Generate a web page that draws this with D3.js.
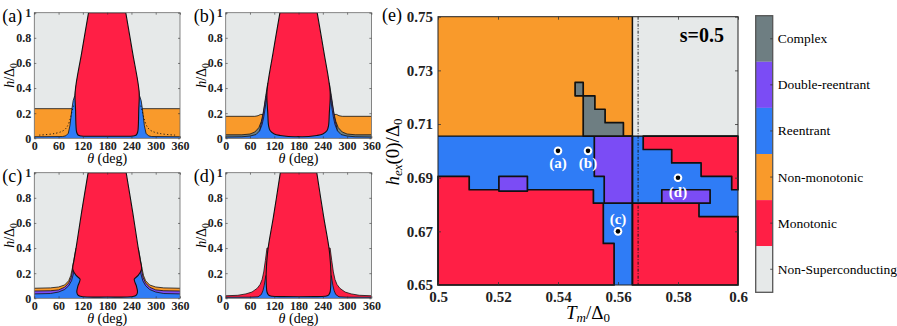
<!DOCTYPE html>
<html>
<head>
<meta charset="utf-8">
<script src="https://cdn.jsdelivr.net/npm/d3@7"></script>
<style>
  body { margin: 0; background: #fff; }
</style>
</head>
<body>
<svg id="chart" width="897" height="326" font-family="'Liberation Serif'"></svg>
<script>
// ---------- data: small panels (a)-(d), h/Δ0 vs θ ----------
// every curve is given as the half 0..180 deg, the other half is its mirror about 180
const thetaTicks = [0, 60, 120, 180, 240, 300, 360];
const hTicks = [0, 0.2, 0.4, 0.6, 0.8, 1];
const hTickLabels = ["0", "0.2", "0.4", "0.6", "0.8", "1"];

// (a)
const aOrange = [[0,0.236],[180,0.236]];
const aBlue = [[0,0.012],[70,0.014],[78,0.02],[84,0.04],[88,0.1],[91,0.18],[93,0.236],[96,0.3],[100,0.34],[104,0.42],[108,0.5],[180,0.5]];
const aRed = [[134,1],[117,0.68],[101,0.37],[102,0.22],[103,0.1],[104.5,0.05],[108,0.026],[116,0.018],[140,0.016],[180,0.016]];
const aDotted = [[97,0.26],[92,0.2],[87,0.13],[80,0.08],[70,0.055],[55,0.04],[35,0.03],[10,0.025]];
// (b)
const bOrange = [[0,0.175],[72,0.175],[80,0.18],[86,0.19],[180,0.19]];
const bComplex = [[0,0.028],[40,0.028],[60,0.034],[72,0.05],[82,0.085],[88,0.135],[92,0.19],[95,0.25],[99,0.34],[104,0.44],[180,0.44]];
const bPurple = [[0,0],[80,0],[86,0.09],[91,0.16],[95,0.24],[98,0.3],[102,0.38],[180,0.38]];
const bBlue = [[0,0.01],[40,0.012],[60,0.018],[75,0.03],[84,0.06],[90,0.11],[94,0.17],[97,0.23],[100,0.3],[104,0.36],[180,0.36]];
const bRed = [[134,1],[117,0.68],[102,0.37],[104,0.2],[106,0.1],[110,0.06],[120,0.035],[135,0.022],[155,0.014],[180,0.013]];
// (c)
const cOrange = [[0,0.08],[40,0.083],[60,0.09],[75,0.106],[85,0.14],[90,0.18],[94,0.24],[98,0.31],[103,0.4],[180,0.4]];
const cPurple = [[0,0.058],[40,0.06],[60,0.067],[75,0.088],[85,0.122],[91,0.165],[95,0.225],[99,0.29],[104,0.38],[180,0.38]];
const cBlue = [[0,0.035],[40,0.038],[60,0.05],[75,0.07],[85,0.1],[92,0.14],[97,0.2],[101,0.26],[106,0.36],[180,0.36]];
const cRed = [[133,1],[116.6,0.68],[103.2,0.4],[98,0.3],[95,0.23],[104,0.18],[113,0.152],[108,0.1],[105,0.05],[108,0.025],[114,0.016],[130,0.01],[180,0.01]];
// (d)
const dRedSide = [[0,0.02],[30,0.024],[50,0.035],[65,0.05],[78,0.08],[85,0.11],[90,0.15],[94,0.21],[98,0.3],[102,0.4],[180,0.4]];
const dBlue = [[0,0.008],[60,0.009],[80,0.012],[88,0.03],[92,0.06],[95,0.1],[97,0.14],[99,0.18],[180,0.18]];
const dRed = [[135,1],[118,0.65],[104,0.38],[100,0.2],[100.5,0.1],[102,0.05],[106,0.025],[115,0.016],[140,0.013],[180,0.012]];

// ---------- data: panel (e), h_ex(0)/Δ0 vs T_m/Δ0 ----------
const tTicks = [0.5, 0.52, 0.54, 0.56, 0.58, 0.6];
const tTickLabels = ["0.5", "0.52", "0.54", "0.56", "0.58", "0.6"];
const hexTicks = [0.65, 0.67, 0.69, 0.71, 0.73, 0.75];
const splitH = 0.7055;      // Non-monotonic / Reentrant border
const solidT = 0.5648;      // vertical solid line
const dashT = 0.5667;       // vertical dash-dot line
const eOrange = [[0.5,0.75],[0.5648,0.75],[0.5648,0.7055],[0.5,0.7055]];
const eNonSC = [[0.5648,0.75],[0.6,0.75],[0.6,0.7055],[0.5648,0.7055]];
const eBlue = [[0.5,0.7055],[0.6,0.7055],[0.6,0.65],[0.5,0.65]];
const eRedLowLeft = [[0.5,0.6905],[0.5104,0.6905],[0.5104,0.6855],[0.5518,0.6855],[0.5518,0.6805],[0.5551,0.6805],[0.5551,0.6655],[0.5587,0.6655],[0.5587,0.65],[0.5,0.65]];
const eRedLowRight = [[0.5648,0.6805],[0.5870,0.6805],[0.5870,0.6755],[0.6,0.6755],[0.6,0.65],[0.5648,0.65]];
const eRedUpRight = [[0.5684,0.7055],[0.6,0.7055],[0.6,0.6855],[0.5979,0.6855],[0.5979,0.6905],[0.5877,0.6905],[0.5877,0.6955],[0.5779,0.6955],[0.5779,0.7005],[0.5684,0.7005]];
const ePurpleMid = [[0.5521,0.7055],[0.5648,0.7055],[0.5648,0.6805],[0.5554,0.6805],[0.5554,0.6905],[0.5521,0.6905]];
const ePurpleA = [[0.5203,0.6905],[0.5298,0.6905],[0.5298,0.6850],[0.5203,0.6850]];
const ePurpleD = [[0.5746,0.6855],[0.5907,0.6855],[0.5907,0.6805],[0.5746,0.6805]];
const eComplex = [[0.5457,0.7255],[0.5484,0.7255],[0.5484,0.7205],[0.5523,0.7205],[0.5523,0.7155],[0.5557,0.7155],[0.5557,0.7105],[0.5618,0.7105],[0.5618,0.7055],[0.5484,0.7055],[0.5484,0.7205],[0.5457,0.7205]];
const markerNames = ["(a)", "(b)", "(c)", "(d)"];
const markerT = [0.54, 0.55, 0.56, 0.58];
const markerH = [0.70, 0.70, 0.67, 0.69];

// ---------- legend ----------
const categories = ["Complex", "Double-reentrant", "Reentrant", "Non-monotonic", "Monotonic", "Non-Superconducting"];
const catColors = ["#6e7e82", "#7b4cf5", "#2f7cf6", "#f99a2b", "#ff1f45", "#e6e9e9"];
const col = {};
categories.forEach((c, i) => col[c] = catColors[i]);

const FONT = "'Liberation Serif'";
const svg = d3.select("#chart");

function mirror(half) {
  const back = half.slice().reverse().filter(p => p[0] < 180).map(p => [360 - p[0], p[1]]);
  return half.concat(back);
}

// ---------- small panels ----------
const panels = [
  { name: "(a)", x: 34.3, y: 12.7, layers: [[aOrange, "Non-monotonic"], [aBlue, "Reentrant"]], red: aRed, dotted: aDotted },
  { name: "(b)", x: 225.7, y: 12.7, layers: [[bOrange, "Non-monotonic"], [bComplex, "Complex"], [bPurple, "Double-reentrant"], [bBlue, "Reentrant"]], red: bRed },
  { name: "(c)", x: 34.3, y: 172.7, layers: [[cOrange, "Non-monotonic"], [cPurple, "Double-reentrant"], [cBlue, "Reentrant"]], red: cRed },
  { name: "(d)", x: 225.7, y: 172.7, layers: [[dRedSide, "Monotonic"], [dBlue, "Reentrant"]], red: dRed }
];
const pw = 145.7, ph = 125.6;

panels.forEach((p, i) => {
  const g = svg.append("g").attr("transform", `translate(${p.x},${p.y})`);
  const x = d3.scaleLinear().domain([0, 360]).range([0, pw]);
  const y = d3.scaleLinear().domain([0, 1]).range([ph, 0]);

  g.append("clipPath").attr("id", "clip" + i)
    .append("rect").attr("width", pw).attr("height", ph);
  const body = g.append("g").attr("clip-path", `url(#clip${i})`);

  body.append("rect").attr("width", pw).attr("height", ph).attr("fill", col["Non-Superconducting"]);

  const area = d3.area().x(d => x(d[0])).y0(y(0)).y1(d => y(d[1]));
  const top = d3.line().x(d => x(d[0])).y(d => y(d[1]));
  p.layers.forEach(([half, cat]) => {
    const pts = mirror(half);
    body.append("path").attr("d", area(pts)).attr("fill", col[cat]);
    body.append("path").attr("d", top(pts)).attr("fill", "none")
      .attr("stroke", "#111").attr("stroke-width", 0.8);
  });

  if (p.dotted) {
    const dl = d3.line().x(d => x(d[0])).y(d => y(d[1])).curve(d3.curveBasis);
    [p.dotted, p.dotted.map(d => [360 - d[0], d[1]])].forEach(c => {
      body.append("path").attr("d", dl(c)).attr("fill", "none")
        .attr("stroke", "#111").attr("stroke-width", 0.9).attr("stroke-dasharray", "1.2,2.2");
    });
  }

  const redPts = p.red.concat(p.red.slice().reverse().filter(d => d[0] < 180).map(d => [360 - d[0], d[1]]));
  body.append("path")
    .attr("d", d3.line().x(d => x(d[0])).y(d => y(d[1])).curve(d3.curveCatmullRom.alpha(0.5))(redPts) + "Z")
    .attr("fill", col["Monotonic"]).attr("stroke", "#111").attr("stroke-width", 1.1)
    .attr("stroke-linejoin", "round");

  // frame and ticks
  g.append("rect").attr("width", pw).attr("height", ph).attr("fill", "none")
    .attr("stroke", "#666").attr("stroke-width", 0.8);
  const xb = g.append("g").attr("transform", `translate(0,${ph})`)
    .call(d3.axisBottom(x).tickValues(thetaTicks).tickSize(-2).tickPadding(3).tickFormat(d3.format("d")));
  const xt = g.append("g").call(d3.axisTop(x).tickValues(thetaTicks).tickSize(-2).tickFormat(""));
  const yl = g.append("g")
    .call(d3.axisLeft(y).tickValues(hTicks).tickSize(-2).tickPadding(3).tickFormat((d, k) => hTickLabels[k]));
  const yr = g.append("g").attr("transform", `translate(${pw},0)`)
    .call(d3.axisRight(y).tickValues(hTicks).tickSize(-2).tickFormat(""));
  [xb, xt, yl, yr].forEach(a => {
    a.attr("font-family", FONT);
    a.select(".domain").remove();
    a.selectAll("line").attr("stroke", "#333").attr("stroke-width", 0.6);
    a.selectAll("text").attr("font-size", 12).attr("font-weight", "bold").attr("fill", "#222");
  });

  // panel tag
  g.append("text").attr("x", -32).attr("y", 9).attr("font-size", 18).text(p.name);

  // axis titles
  const xl = g.append("text").attr("x", pw / 2).attr("y", ph + 25).attr("text-anchor", "middle").attr("font-size", 14);
  xl.append("tspan").attr("font-style", "italic").text("θ");
  xl.append("tspan").text(" (deg)");
  const ylab = g.append("text").attr("transform", `translate(-20,${ph / 2}) rotate(-90)`)
    .attr("text-anchor", "middle").attr("font-size", 14);
  ylab.append("tspan").attr("font-style", "italic").text("h");
  ylab.append("tspan").text("/Δ");
  ylab.append("tspan").attr("font-size", 9.5).attr("dy", 3).text("0");
});

// ---------- panel (e) ----------
const ex0 = 438, ex1 = 738, ey0 = 16.7, ey1 = 285;
const xs = d3.scaleLinear().domain([0.5, 0.6]).range([ex0, ex1]);
const ys = d3.scaleLinear().domain([0.65, 0.75]).range([ey1, ey0]);
const poly = d3.line().x(d => xs(d[0])).y(d => ys(d[1]));
const eg = svg.append("g");

[[eOrange, "Non-monotonic"], [eNonSC, "Non-Superconducting"], [eBlue, "Reentrant"]].forEach(([pts, cat]) => {
  eg.append("path").attr("d", poly(pts) + "Z").attr("fill", col[cat]);
});
eg.append("line").attr("x1", xs(0.5)).attr("x2", xs(0.6)).attr("y1", ys(splitH)).attr("y2", ys(splitH))
  .attr("stroke", "#111").attr("stroke-width", 1.2);

[[eRedLowLeft, "Monotonic"], [eRedLowRight, "Monotonic"], [eRedUpRight, "Monotonic"],
 [ePurpleMid, "Double-reentrant"], [ePurpleA, "Double-reentrant"], [ePurpleD, "Double-reentrant"],
 [eComplex, "Complex"]].forEach(([pts, cat]) => {
  eg.append("path").attr("d", poly(pts) + "Z").attr("fill", col[cat])
    .attr("stroke", "#111").attr("stroke-width", 1.7).attr("stroke-linejoin", "round");
});

eg.append("line").attr("x1", xs(solidT)).attr("x2", xs(solidT)).attr("y1", ey0).attr("y2", ey1)
  .attr("stroke", "#111").attr("stroke-width", 1.5);
eg.append("line").attr("x1", xs(dashT)).attr("x2", xs(dashT)).attr("y1", ey0).attr("y2", ey1)
  .attr("stroke", "#111").attr("stroke-width", 0.9).attr("stroke-dasharray", "3,1.5,1,1.5");

// frame
eg.append("rect").attr("x", ex0).attr("y", ey0).attr("width", ex1 - ex0).attr("height", ey1 - ey0)
  .attr("fill", "none").attr("stroke", "#222").attr("stroke-width", 1);

// markers
markerNames.forEach((nm, i) => {
  const cx = xs(markerT[i]), cy = ys(markerH[i]);
  eg.append("circle").attr("cx", cx).attr("cy", cy).attr("r", 4.3).attr("fill", "#fff");
  eg.append("circle").attr("cx", cx).attr("cy", cy).attr("r", 2.3).attr("fill", "#000");
  const off = [17, 17, -7, 19][i];
  eg.append("text").attr("x", cx).attr("y", cy + off).attr("text-anchor", "middle")
    .attr("font-size", 15).attr("font-weight", "bold").attr("fill", "#fff").text(nm);
});

eg.append("text").attr("x", 724).attr("y", 42).attr("text-anchor", "end")
  .attr("font-size", 20).attr("font-weight", "bold").text("s=0.5");

const xa = eg.append("g").attr("transform", `translate(0,${ey1})`)
  .call(d3.axisBottom(xs).tickValues(tTicks).tickSize(-3).tickPadding(6).tickFormat((d, k) => tTickLabels[k]));
const xat = eg.append("g").attr("transform", `translate(0,${ey0})`)
  .call(d3.axisTop(xs).tickValues(tTicks).tickSize(-3).tickFormat(""));
const ya = eg.append("g").attr("transform", `translate(${ex0},0)`)
  .call(d3.axisLeft(ys).tickValues(hexTicks).tickSize(-3).tickPadding(5).tickFormat(d3.format(".2f")));
const yat = eg.append("g").attr("transform", `translate(${ex1},0)`)
  .call(d3.axisRight(ys).tickValues(hexTicks).tickSize(-3).tickFormat(""));
[xa, xat, ya, yat].forEach(a => {
  a.attr("font-family", FONT);
  a.select(".domain").remove();
  a.selectAll("line").attr("stroke", "#333").attr("stroke-width", 0.8);
  a.selectAll("text").attr("font-size", 15).attr("font-weight", "bold").attr("fill", "#222");
});

eg.append("text").attr("x", 382).attr("y", 21).attr("font-size", 18).text("(e)");

const exl = eg.append("text").attr("x", 588).attr("y", 319).attr("text-anchor", "middle").attr("font-size", 19);
exl.append("tspan").attr("font-style", "italic").text("T");
exl.append("tspan").attr("font-style", "italic").attr("font-size", 13).attr("dy", 3).text("m");
exl.append("tspan").attr("dy", -3).text("/Δ");
exl.append("tspan").attr("font-size", 13).attr("dy", 3).text("0");

const eyl = eg.append("text").attr("transform", `translate(399,152) rotate(-90)`)
  .attr("text-anchor", "middle").attr("font-size", 19);
eyl.append("tspan").attr("font-style", "italic").text("h");
eyl.append("tspan").attr("font-style", "italic").attr("font-size", 13).attr("dy", 3).text("ex");
eyl.append("tspan").attr("dy", -3).text("(0)/Δ");
eyl.append("tspan").attr("font-size", 13).attr("dy", 3).text("0");

// ---------- colorbar legend ----------
const cb0 = 15.7, cb1 = 292.3, cbx = 755.7, cbw = 17;
const cbScale = d3.scaleBand().domain(categories).range([cb0, cb1]);
const lg = svg.append("g");
lg.selectAll("rect.seg").data(categories).enter().append("rect")
  .attr("class", "seg").attr("x", cbx).attr("y", d => cbScale(d))
  .attr("width", cbw).attr("height", cbScale.bandwidth()).attr("fill", d => col[d]);
lg.append("rect").attr("x", cbx).attr("y", cb0).attr("width", cbw).attr("height", cb1 - cb0)
  .attr("fill", "none").attr("stroke", "#555").attr("stroke-width", 1.3);
lg.selectAll("line.tk").data(categories).enter().append("line")
  .attr("x1", cbx + cbw - 2.5).attr("x2", cbx + cbw)
  .attr("y1", d => cbScale(d) + cbScale.bandwidth() / 2).attr("y2", d => cbScale(d) + cbScale.bandwidth() / 2)
  .attr("stroke", "#333").attr("stroke-width", 0.8);
lg.selectAll("text.lb").data(categories).enter().append("text")
  .attr("x", cbx + cbw + 5).attr("y", d => cbScale(d) + cbScale.bandwidth() / 2 + 4.5)
  .attr("font-size", 13.5).text(d => d);
</script>
</body>
</html>
